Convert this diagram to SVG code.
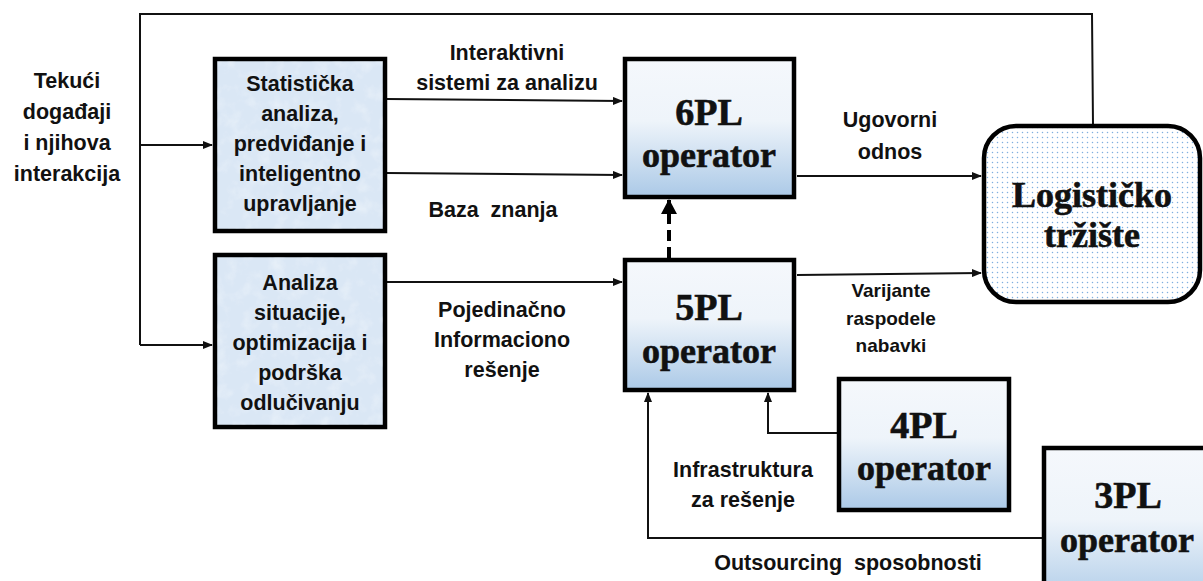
<svg xmlns="http://www.w3.org/2000/svg" width="1203" height="581" viewBox="0 0 1203 581">
  <style>
    .lbl { font-family: "Liberation Sans", Arial, sans-serif; font-weight: bold; font-size: 21.5px; fill: #111; text-anchor: middle; }
    .big { font-family: "Liberation Serif", "Times New Roman", serif; font-weight: bold; font-size: 36px; fill: #111; stroke: #111; stroke-width: 0.6; text-anchor: middle; }
    .op { stroke: #000; stroke-width: 4.5; fill: url(#plFill); }
    .fn { stroke: #000; stroke-width: 4.5; fill: #dae7f5; }
    .wire { stroke: #111; stroke-width: 2; fill: none; }
  </style>
  <defs>
    <linearGradient id="plFill" x1="0" y1="0" x2="0" y2="1">
      <stop offset="0" stop-color="#f5f8fc"/>
      <stop offset="0.45" stop-color="#eef4fa"/>
      <stop offset="1" stop-color="#abc9e7"/>
    </linearGradient>
    <pattern id="dots" width="5" height="5" patternUnits="userSpaceOnUse">
      <rect width="5" height="5" fill="#ffffff"/>
      <circle cx="2.5" cy="2.5" r="0.75" fill="#7fb0e0"/>
    </pattern>
    <filter id="frost" x="0" y="0" width="1" height="1">
      <feTurbulence type="fractalNoise" baseFrequency="0.07" numOctaves="3" seed="4" result="noise"/>
      <feColorMatrix in="noise" type="matrix" values="0 0 0 0 1  0 0 0 0 1  0 0 0 0 1  1.6 0 0 0 -0.75" result="specks"/>
      <feComposite in="specks" in2="SourceGraphic" operator="in"/>
    </filter>
    <marker id="arr" markerWidth="10" markerHeight="8" refX="9" refY="4" orient="auto" markerUnits="userSpaceOnUse">
      <path d="M0,0 L10,4 L0,8 Z" fill="#111"/>
    </marker>
    <marker id="arrBig" markerWidth="16" markerHeight="16" refX="14" refY="8" orient="auto" markerUnits="userSpaceOnUse">
      <path d="M0,0 L15,8 L0,16 Z" fill="#000"/>
    </marker>
  </defs>

  <rect width="1203" height="581" fill="#ffffff"/>

  <!-- connectors -->
  <g id="connectors">
    <!-- feedback loop from the market back to the inputs -->
    <polyline class="wire" points="1093,125 1092,14 140,14 140,345"/>
    <line class="wire" x1="140" y1="145" x2="212" y2="145" marker-end="url(#arr)"/>
    <line class="wire" x1="140" y1="345" x2="212" y2="345" marker-end="url(#arr)"/>
    <!-- analysis to 6PL -->
    <line class="wire" x1="387" y1="99" x2="622" y2="101" marker-end="url(#arr)"/>
    <line class="wire" x1="387" y1="173" x2="622" y2="175" marker-end="url(#arr)"/>
    <!-- situation analysis to 5PL -->
    <line class="wire" x1="387" y1="282" x2="622" y2="282" marker-end="url(#arr)"/>
    <!-- operators to the market -->
    <line class="wire" x1="797" y1="176" x2="981" y2="176" marker-end="url(#arr)"/>
    <line class="wire" x1="797" y1="275" x2="981" y2="273" marker-end="url(#arr)"/>
    <!-- 5PL evolves to 6PL -->
    <line x1="669" y1="258" x2="669" y2="200" stroke="#000" stroke-width="4" stroke-dasharray="11,6" marker-end="url(#arrBig)"/>
    <!-- 4PL and 3PL feed 5PL -->
    <polyline class="wire" points="837,433 768,433 768,393" marker-end="url(#arr)"/>
    <polyline class="wire" points="1042,538 648,538 648,393" marker-end="url(#arr)"/>
  </g>

  <!-- input label -->
  <g id="events">
    <text class="lbl" x="67" y="88">Tekući</text>
    <text class="lbl" x="67" y="119">događaji</text>
    <text class="lbl" x="67" y="150">i njihova</text>
    <text class="lbl" x="67" y="181">interakcija</text>
  </g>

  <g id="statistics">
    <rect class="fn" x="215" y="59" width="170" height="172"/>
    <rect x="217" y="61" width="166" height="168" fill="#dae7f5" filter="url(#frost)" opacity="0.45"/>
    <text class="lbl" x="300" y="91">Statistička</text>
    <text class="lbl" x="300" y="121">analiza,</text>
    <text class="lbl" x="300" y="151">predviđanje i</text>
    <text class="lbl" x="300" y="181">inteligentno</text>
    <text class="lbl" x="300" y="211">upravljanje</text>
  </g>

  <g id="situation">
    <rect class="fn" x="215" y="255" width="170" height="172"/>
    <rect x="217" y="257" width="166" height="168" fill="#dae7f5" filter="url(#frost)" opacity="0.45"/>
    <text class="lbl" x="300" y="290">Analiza</text>
    <text class="lbl" x="300" y="320">situacije,</text>
    <text class="lbl" x="300" y="350">optimizacija i</text>
    <text class="lbl" x="300" y="380">podrška</text>
    <text class="lbl" x="300" y="410">odlučivanju</text>
  </g>

  <!-- edge labels -->
  <g id="edge-labels">
    <text class="lbl" x="507" y="60">Interaktivni</text>
    <text class="lbl" x="507" y="90">sistemi za analizu</text>
    <text class="lbl" x="493" y="217" xml:space="preserve">Baza  znanja</text>
    <text class="lbl" x="502" y="317">Pojedinačno</text>
    <text class="lbl" x="502" y="347">Informaciono</text>
    <text class="lbl" x="502" y="377">rešenje</text>
    <text class="lbl" x="890" y="127">Ugovorni</text>
    <text class="lbl" x="890" y="159">odnos</text>
    <text class="lbl" x="891" y="297" style="font-size:19px">Varijante</text>
    <text class="lbl" x="891" y="325" style="font-size:19px">raspodele</text>
    <text class="lbl" x="891" y="352" style="font-size:19px">nabavki</text>
    <text class="lbl" x="743" y="477">Infrastruktura</text>
    <text class="lbl" x="743" y="507">za rešenje</text>
    <text class="lbl" x="848" y="570" xml:space="preserve">Outsourcing  sposobnosti</text>
  </g>

  <g id="op6">
    <rect class="op" x="625" y="59" width="169" height="138"/>
    <text class="big" x="709" y="125" style="font-size:38px">6PL</text>
    <text class="big" x="709" y="167">operator</text>
  </g>

  <g id="op5">
    <rect class="op" x="625" y="260" width="169" height="130"/>
    <text class="big" x="709" y="320" style="font-size:38px">5PL</text>
    <text class="big" x="709" y="363">operator</text>
  </g>

  <g id="op4">
    <rect class="op" x="839" y="379" width="170" height="131"/>
    <text class="big" x="924" y="438" style="font-size:38px">4PL</text>
    <text class="big" x="924" y="480">operator</text>
  </g>

  <g id="op3">
    <rect class="op" x="1044" y="448" width="170" height="160"/>
    <text class="big" x="1128" y="508" style="font-size:38px">3PL</text>
    <text class="big" x="1127" y="552">operator</text>
  </g>

  <g id="market">
    <rect x="984" y="126" width="216" height="176" rx="32" ry="32" fill="url(#dots)" stroke="#000" stroke-width="4.5"/>
    <text class="big" x="1092" y="207">Logističko</text>
    <text class="big" x="1092" y="247">tržište</text>
  </g>
</svg>
